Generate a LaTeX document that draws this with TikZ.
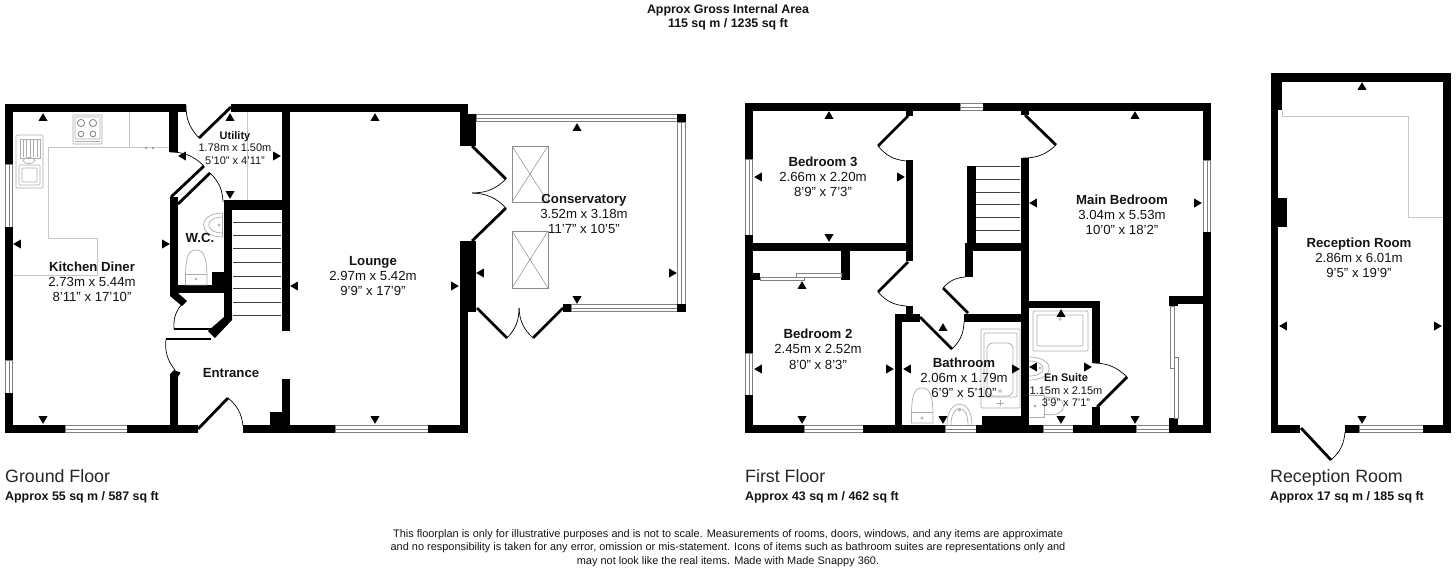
\documentclass[tikz,border=0pt]{standalone}
\usepackage{fontspec}
\setmainfont{Liberation Sans}
\newcommand\fsz[1]{\fontsize{#1}{#1}\selectfont}
\tikzset{
 plan/.style={x=1pt,y=-1pt,line join=miter},
 wallfill/.style={fill=black,draw=none},
 leaf/.style={draw=black,line width=2.8pt,line cap=butt},
 swing/.style={draw=black,line width=.7pt},
 glaze/.style={fill=white,draw=black!50,line width=1pt},
 fixture/.style={draw=black!32,line width=.7pt,fill=none},
 counter/.style={draw=black!22,line width=.8pt},
 tread/.style={draw=black!75,line width=1pt},
 lab/.style={font=\fsz{13.2},text=black!92,inner sep=0pt,anchor=base,yshift=-4.7pt},
 labb/.style={font=\bfseries\fsz{13.2},text=black!92,inner sep=0pt,anchor=base,yshift=-4.7pt},
 labs/.style={font=\fsz{11},text=black!92,inner sep=0pt,anchor=base,yshift=-3.9pt},
 labsb/.style={font=\bfseries\fsz{11},text=black!92,inner sep=0pt,anchor=base,yshift=-3.9pt},
 foot/.style={font=\fsz{17.8},text=black!85,anchor=base west,inner sep=0pt,yshift=-6.4pt},
 footb/.style={font=\bfseries\fsz{12.4},text=black!92,anchor=base west,inner sep=0pt,yshift=-4.4pt},
 head/.style={font=\bfseries\fsz{12.4},text=black!92,inner sep=0pt,anchor=base,yshift=-4.4pt},
 note/.style={font=\fsz{10.95},text=black!92,inner sep=0pt,anchor=base,yshift=-3.9pt},
}
\newcommand\wl[4]{\fill[wallfill] (#1,#2) rectangle (#3,#4);}
\newcommand\wnh[4]{\filldraw[glaze] (#1,#2+.5) rectangle (#3,#4-.5); \draw[draw=black!50,line width=.8pt] (#1,{(#2+#4)/2}) -- (#3,{(#2+#4)/2});}
\newcommand\wnv[4]{\filldraw[glaze] (#1+.5,#2) rectangle (#3-.5,#4); \draw[draw=black!50,line width=.8pt] ({(#1+#3)/2},#2) -- ({(#1+#3)/2},#4);}
\newcommand\tu[2]{\fill[black] (#1-4.5,#2+3.8) -- (#1+4.5,#2+3.8) -- (#1,#2-3.8) -- cycle;}
\newcommand\td[2]{\fill[black] (#1-4.5,#2-3.8) -- (#1+4.5,#2-3.8) -- (#1,#2+3.8) -- cycle;}
\newcommand\tl[2]{\fill[black] (#1+3.8,#2-4.5) -- (#1+3.8,#2+4.5) -- (#1-3.8,#2) -- cycle;}
\newcommand\tr[2]{\fill[black] (#1-3.8,#2-4.5) -- (#1-3.8,#2+4.5) -- (#1+3.8,#2) -- cycle;}
\newcommand\dline[4]{\draw[leaf] (#1,#2) -- (#3,#4);}
\newcommand\dswL[4]{\draw[swing] (#1,#2) to[bend left=22] (#3,#4);}
\newcommand\dswR[4]{\draw[swing] (#1,#2) to[bend right=22] (#3,#4);}
\newcommand\skylight[4]{\draw[draw=black!45,line width=.9pt] (#1,#2) rectangle (#3,#4); \draw[draw=black!45,line width=.5pt] (#1,#2) -- (#3,#4) (#3,#2) -- (#1,#4);}
\begin{document}
\begin{tikzpicture}[plan]
\useasboundingbox (0,0) rectangle (1456,568);
\fill[white] (0,0) rectangle (1456,568);
% ---- heading
\node[head] (hA) at (728,9) {Approx Gross Internal Area};
\node[head] (hB) at (728,23) {115 sq m / 1235 sq ft};
% ---- kitchen fittings
\draw[counter] (169,147) -- (48,147) -- (48,238) -- (97,238) -- (97,275) -- (13,275);
\draw[counter] (129,112) -- (129,147);
\draw[fixture,rounded corners=1pt] (73,115) rectangle (102,144);
\draw[fixture,rounded corners=1pt] (75,117) rectangle (100,139);
\draw[draw=black!45,line width=.9pt] (81,123) circle (3.6) (93,123) circle (3.6) (81,134) circle (2.8) (93,134) circle (2.8);
\draw[fixture] (75,141.5) -- (100,141.5);
\draw[fixture,rounded corners=1pt] (16,135) rectangle (43,188);
\draw[fixture,rounded corners=1pt] (19,165) rectangle (40,185);
\draw[fixture,rounded corners=1pt] (22,168) rectangle (37,182);
\draw[fixture] (20,139) rectangle (40,158);
\foreach \xx in {23,26.5,30,33.5,37}{\draw[fixture] (\xx,140) -- (\xx,157);}
\draw[fixture] (29,160.5) ellipse (6 and 3);
\draw[draw=black!40,line width=.6pt] (146,148) circle (1) (153,148) circle (1);
\draw[counter] (247,112) -- (247,200);
% ---- ground floor stairs
\foreach \yy in {222,235,248,262,276,288,302,315}{\draw[tread] (233,\yy) -- (281,\yy);}
% ---- ground walls
\wl{5}{104}{186}{112}
\wl{231}{104}{468}{112}
\wl{5}{104}{13}{164}
\wnv{5}{164}{13}{227}
\wl{5}{227}{13}{360}
\wnv{5}{360}{13}{393}
\wl{5}{393}{13}{433}
\wl{5}{425}{65}{433}
\wnh{65}{425}{127}{433}
\wl{127}{425}{198}{433}
\wl{243}{425}{335}{433}
\wnh{335}{425}{428}{433}
\wl{428}{425}{468}{433}
\wl{169}{104}{178}{152}
\wl{170}{197}{178}{293}
\wl{170}{285}{232}{293}
\fill[wallfill] (170,293) -- (178,293) -- (187,301) -- (182,306) -- (170,296) -- cycle;
\wl{212}{272}{224}{285}
\wl{224}{200}{232}{318}
\fill[wallfill] (224,315) -- (232,315) -- (232,320) -- (215,338) -- (208,331) -- (224,317) -- cycle;
\wl{224}{200}{290}{210}
\wl{282}{104}{290}{331}
\wl{282}{379}{290}{433}
\wl{270}{412}{290}{425}
\wl{170}{374}{178}{430}
\fill[wallfill] (170,374) -- (174,370) -- (180.5,372.5) -- (178,377) -- cycle;
\wl{460}{104}{468}{146}
\wl{460}{114}{476}{146}
\wl{460}{241}{476}{312}
\wl{460}{241}{468}{433}
% double slanted wall at utility/W.C.
\dline{171}{197}{204}{166}
\dline{178}{204}{210}{173}
\draw[black,line width=1.5pt] (174,329) -- (213,329);
\draw[black,line width=1.5pt] (166,339) -- (211,339);
% ground doors
\dline{199}{138}{231}{107}
\dswR{186}{105}{199}{138}
\dswL{170}{152}{204}{166}
\dswL{210}{173}{223}{202}
\dswR{182}{304}{174}{329}
\dswR{166}{339}{175}{370}
\dline{198}{429}{228}{398}
\dswL{228}{398}{243}{426}
% W.C. fixtures
\draw[fixture] (223,213) .. controls (197,213) and (197,237) .. (223,237);
\draw[fixture] (223,217) .. controls (204,217) and (204,233) .. (223,233);
\draw[fixture] (222,213) -- (222,237);
\draw[fixture] (219,225) circle (1.2);
\draw[fixture] (196,250) .. controls (188,250) and (185,257) .. (185.5,285) -- (207,285) .. controls (207.5,257) and (204,250) .. (196,250);
\draw[fixture] (186,274) -- (206.5,274);
\draw[fixture] (196,279) circle (1);
% ---- conservatory
\wnh{476}{114}{677}{122}
\wnv{677}{122}{686}{304}
\wnh{571}{304}{677}{312}
\wl{677}{114}{686}{122}
\wl{677}{304}{686}{312}
\wl{563}{304}{571}{312}
\dline{472}{146}{506}{179}
\dswL{506}{179}{472}{193}
\dswL{472}{193}{506}{208}
\dline{506}{208}{472}{241}
\dline{477}{308}{507}{338}
\dswR{507}{338}{519}{308}
\dswR{519}{308}{533}{338}
\dline{533}{338}{563}{308}
\skylight{512}{146}{548}{202}
\skylight{512}{231}{548}{288}
% ---- first floor fittings
\foreach \yy in {166,179,192,204,217,230}{\draw[tread] (976,\yy) -- (1020,\yy);}
\draw[fixture,rounded corners=1pt] (981,329) rectangle (1020,408);
\draw[fixture,rounded corners=1pt] (984,333) rectangle (1017,397);
\draw[fixture,rounded corners=6pt] (987,343) rectangle (1013,396);
\draw[fixture] (1000,391) circle (1.3);
\draw[fixture] (996,403) -- (1004,403) (1000,400) -- (1000,406);
\draw[fixture,rounded corners=1pt] (1033,311) rectangle (1088,351);
\draw[fixture,rounded corners=1pt] (1037,315) rectangle (1083,346);
\draw[fixture] (1060,319) circle (1.3);
\draw[fixture] (1029,357) .. controls (1056,357) and (1056,380) .. (1029,380);
\draw[fixture] (1029,361) .. controls (1048,361) and (1048,376) .. (1029,376);
\draw[fixture] (1040,368) circle (1.2);
\draw[fixture] (1029,395) -- (1044,395) -- (1044,417) -- (1029,417);
\draw[fixture] (1044,398) .. controls (1070,392) and (1070,420) .. (1044,414);
\draw[fixture] (1035,406) circle (1.2);
\draw[fixture] (922,388) .. controls (914,388) and (911,395) .. (911.5,423) -- (933,423) .. controls (933.5,395) and (930,388) .. (922,388);
\draw[fixture] (912,412) -- (932.5,412);
\draw[fixture] (922,418) circle (1.2);
\draw[fixture] (947,425) .. controls (947,397) and (972,397) .. (972,425);
\draw[fixture] (951,425) .. controls (951,403) and (968,403) .. (968,425);
\draw[fixture] (959.5,410) circle (1.2);
% ---- first floor walls
\wl{745}{103}{960}{111}
\wnh{960}{103}{983}{111}
\wl{983}{103}{1211}{111}
\wl{745}{103}{753}{159}
\wnv{745}{159}{753}{235}
\wl{745}{235}{753}{353}
\wnv{745}{353}{753}{395}
\wl{745}{395}{753}{433}
\wl{745}{425}{804}{433}
\wnh{804}{425}{863}{433}
\wl{863}{425}{945}{433}
\wnh{945}{425}{976}{433}
\wl{976}{425}{1043}{433}
\wnh{1043}{425}{1073}{433}
\wl{1073}{425}{1136}{433}
\wnh{1136}{425}{1169}{433}
\wl{1169}{425}{1211}{433}
\wl{1203}{103}{1211}{160}
\wnv{1203}{160}{1211}{232}
\wl{1203}{232}{1211}{433}
\wl{753}{243}{913}{251}
\wl{906}{160}{913}{261}
\wl{906}{111}{913}{116}
\wl{841}{251}{850}{280}
\wl{753}{273}{760}{280}
\filldraw[glaze,line width=.7pt] (760,277) rectangle (804,280.5);
\filldraw[glaze,line width=.7pt] (796,273) rectangle (841,277);
\wl{906}{306}{913}{315}
\wl{895}{314}{920}{322}
\wl{895}{314}{902}{433}
\wl{964}{314}{1029}{322}
\wl{965}{243}{973}{277}
\wl{967}{166}{976}{251}
\wl{965}{243}{1029}{251}
\wl{1021}{158}{1029}{425}
\wl{1021}{111}{1029}{115}
\wl{1029}{301}{1100}{308}
\wl{1092}{301}{1100}{363}
\wl{1092}{407}{1100}{425}
\wl{1169}{296}{1203}{304}
\wl{1169}{304}{1178}{306}
\wl{1169}{418}{1178}{425}
\wl{982}{416}{1021}{425}
\filldraw[glaze,line width=.7pt] (1170,306) rectangle (1174,368);
\filldraw[glaze,line width=.7pt] (1174,357) rectangle (1178,418);
% first floor doors
\dline{908}{116}{878}{146}
\dswR{878}{146}{906}{161}
\dline{908}{262}{878}{292}
\dswR{878}{292}{906}{306}
\dline{920}{317}{952}{349}
\dswR{952}{349}{964}{322}
\dline{943}{288}{968}{313}
\dswL{943}{288}{965}{277}
\dline{1025}{115}{1056}{145}
\dswL{1056}{145}{1023}{158}
\dline{1097}{407}{1127}{377}
\dswR{1127}{377}{1093}{363}
% ---- reception room
\draw[counter] (1282,110) -- (1282,116) -- (1408,116) -- (1408,217) -- (1443,217);
\wl{1271}{73}{1451}{82}
\wl{1271}{73}{1278}{433}
\wl{1278}{82}{1282}{110}
\wl{1278}{198}{1287}{227}
\wl{1443}{73}{1451}{433}
\wl{1271}{425}{1300}{433}
\wl{1345}{425}{1359}{433}
\wnh{1359}{425}{1423}{433}
\wl{1423}{425}{1451}{433}
\dline{1301}{428}{1331}{460}
\dswR{1331}{460}{1345}{432}
% ---- triangles
\tu{43}{117}\tl{17}{244}\tr{166}{244}\td{43}{420}
\tu{230}{117}\tl{182}{156}\tr{277}{156}\td{230}{195}
\tu{375}{117}\td{375}{420}\tl{294}{286}\tr{455}{286}
\tu{577}{127}\td{577}{300}\tl{480}{273}\tr{673}{273}
\tu{829}{115}\tl{758}{177}\tr{901}{177}\td{829}{238}
\tu{802}{285}\tl{758}{369}\tr{890}{369}\td{802}{420}
\tu{943}{327}\tl{907}{369}\tr{1016}{369}\td{943}{420}
\tu{1061}{313}\tl{1033}{367}\tr{1088}{367}\td{1061}{420}
\tu{1135}{115}\tl{1033}{203}\tr{1198}{203}\td{1135}{420}
\tu{1362}{86}\tl{1283}{326}\tr{1438}{326}\td{1362}{420}
% ---- room labels
\node[labb] (kit) at (92,267) {Kitchen Diner};
\node[lab] (kitA) at (92,282) {2.73m x 5.44m};
\node[lab] (kitB) at (92,297) {8'11" x 17'10"};
\node[labsb] (ut) at (235,136) {Utility};
\node[labs] (utA) at (235,148) {1.78m x 1.50m};
\node[labs] (utB) at (235,161) {5'10" x 4'11"};
\node[labb] (wc) at (200,238) {W.C.};
\node[labb] (en) at (231,373) {Entrance};
\node[labb] (lo) at (373,261) {Lounge};
\node[lab] (loA) at (373,276) {2.97m x 5.42m};
\node[lab] (loB) at (373,291) {9'9" x 17'9"};
\node[labb] (co) at (584,199) {Conservatory};
\node[lab] (coA) at (584,214) {3.52m x 3.18m};
\node[lab] (coB) at (584,229) {11'7" x 10'5"};
\node[labb] (b3) at (823,162) {Bedroom 3};
\node[lab] (b3A) at (823,177) {2.66m x 2.20m};
\node[lab] (b3B) at (823,192) {8'9" x 7'3"};
\node[labb] (b2) at (818,334) {Bedroom 2};
\node[lab] (b2A) at (818,349) {2.45m x 2.52m};
\node[lab] (b2B) at (818,365) {8'0" x 8'3"};
\node[labb] (ba) at (964,363) {Bathroom};
\node[lab] (baA) at (964,378) {2.06m x 1.79m};
\node[lab] (baB) at (964,393) {6'9" x 5'10"};
\node[labsb] (es) at (1066,378) {En Suite};
\node[labs] (esA) at (1066,391) {1.15m x 2.15m};
\node[labs] (esB) at (1066,403) {3'9" x 7'1"};
\node[labb] (mb) at (1122,200) {Main Bedroom};
\node[lab] (mbA) at (1122,215) {3.04m x 5.53m};
\node[lab] (mbB) at (1122,230) {10'0" x 18'2"};
\node[labb] (rr) at (1359,243) {Reception Room};
\node[lab] (rrA) at (1359,258) {2.86m x 6.01m};
\node[lab] (rrB) at (1359,273) {9'5" x 19'9"};
% ---- footers
\node[foot] (f1) at (5,476) {Ground Floor};
\node[footb] (f1b) at (5,496) {Approx 55 sq m / 587 sq ft};
\node[foot] (f2) at (745,476) {First Floor};
\node[footb] (f2b) at (745,496) {Approx 43 sq m / 462 sq ft};
\node[foot] (f3) at (1270,476) {Reception Room};
\node[footb] (f3b) at (1270,496) {Approx 17 sq m / 185 sq ft};
\node[note] (n1) at (728,534) {This floorplan is only for illustrative purposes and is not to scale. Measurements of rooms, doors, windows, and any items are approximate};
\node[note] (n2) at (728,547) {and no responsibility is taken for any error, omission or mis-statement. Icons of items such as bathroom suites are representations only and};
\node[note] (n3) at (728,561) {may not look like the real items. Made with Made Snappy 360.};
\end{tikzpicture}
\end{document}
